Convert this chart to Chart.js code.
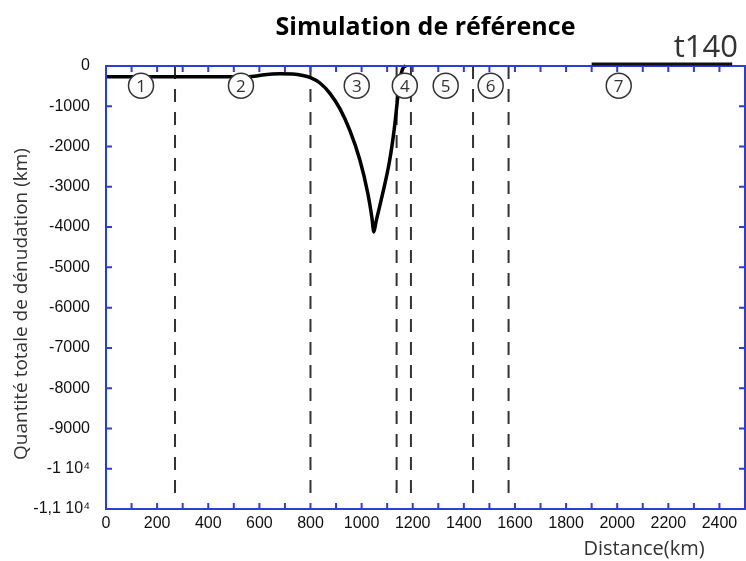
<!DOCTYPE html>
<html>
<head>
<meta charset="utf-8">
<script src="https://cdn.jsdelivr.net/npm/chart.js@4/dist/chart.umd.min.js"></script>
<style>
  html, body { margin: 0; padding: 0; background: #fff; }
  #wrap { width: 746px; height: 561px; }
</style>
</head>
<body>
<div id="wrap"><canvas id="c" width="746" height="561"></canvas></div>
<script>
// --- data ---
const distanceKm = [0, 200, 400, 540, 580, 620, 680, 730, 770, 800, 837, 876, 915, 954, 993, 1024, 1040, 1048, 1056, 1083, 1110, 1128, 1142, 1152, 1163, 1173];
const denudation = [-270, -270, -270, -270, -255, -215, -195, -200, -235, -290, -422, -678, -1060, -1600, -2330, -3153, -3750, -4120, -3880, -3153, -2334, -1550, -750, -280, -40, 0];

const boundaryKm = [270, 800, 1137, 1193, 1436, 1575];   // dashed zone limits
const zoneLabels = ['1', '2', '3', '4', '5', '6', '7'];
const zoneKm = [137, 528, 981, 1169, 1329, 1505, 2006];
const zoneLevel = -490;

const timeLabel = 't140';
const timeBarKm = [1900, 2450];

const xTickStep = 200;
const yTickLabels = ['0', '-1000', '-2000', '-3000', '-4000', '-5000', '-6000', '-7000', '-8000', '-9000', '-1 10\u2074', '-1,1 10\u2074'];

const AXIS_BLUE = '#2a3fd8';
const INK = '#333333';

// dashed boundary datasets
const boundarySets = boundaryKm.map(x => ({
    data: [{ x: x, y: 0 }, { x: x, y: -10750 }],
    borderColor: INK,
    borderWidth: 2,
    borderDash: [13, 10],
    pointRadius: 0,
    fill: false,
    order: 3
}));

// blue frame with inward ticks, zone numbers, time bar, axis titles
const decor = {
    id: 'decor',
    afterDatasetsDraw(chart) {
        const ctx = chart.ctx;
        const { left, right, top, bottom } = chart.chartArea;
        const xs = chart.scales.x, ys = chart.scales.y;

        // numbers inside the zone circles
        const meta = chart.getDatasetMeta(chart.data.datasets.length - 1);
        ctx.save();
        ctx.fillStyle = INK;
        ctx.font = '17px "Open Sans", sans-serif';
        ctx.textAlign = 'center';
        ctx.textBaseline = 'middle';
        meta.data.forEach((pt, i) => ctx.fillText(zoneLabels[i], pt.x, pt.y + 1));
        ctx.restore();

        // frame
        ctx.save();
        ctx.strokeStyle = AXIS_BLUE;
        ctx.lineWidth = 2;
        ctx.strokeRect(left, top, right - left, bottom - top);
        ctx.beginPath();
        for (let v = 100; v < 2500; v += 100) {
            const px = xs.getPixelForValue(v);
            ctx.moveTo(px, bottom); ctx.lineTo(px, bottom - 6);
            ctx.moveTo(px, top); ctx.lineTo(px, top + 6);
        }
        for (let v = -1000; v > -11000; v -= 1000) {
            const py = ys.getPixelForValue(v);
            ctx.moveTo(left, py); ctx.lineTo(left + 6, py);
            ctx.moveTo(right, py); ctx.lineTo(right - 6, py);
        }
        ctx.stroke();
        ctx.restore();

        // time bar just above the frame
        ctx.save();
        ctx.strokeStyle = '#111';
        ctx.lineWidth = 3;
        ctx.beginPath();
        ctx.moveTo(xs.getPixelForValue(timeBarKm[0]), top - 2);
        ctx.lineTo(xs.getPixelForValue(timeBarKm[1]), top - 2);
        ctx.stroke();

        // texts
        ctx.fillStyle = INK;
        ctx.font = '31px "Open Sans", sans-serif';
        ctx.textAlign = 'right';
        ctx.textBaseline = 'alphabetic';
        ctx.fillText(timeLabel, 738, 57);

        ctx.font = '20px "Open Sans", sans-serif';
        ctx.textAlign = 'center';
        ctx.textBaseline = 'middle';
        ctx.fillText('Distance(km)', 644, 549);

        ctx.font = '19px "Open Sans", sans-serif';
        ctx.translate(22, 304);
        ctx.rotate(-Math.PI / 2);
        ctx.fillText('Quantité totale de dénudation (km)', 0, 0);
        ctx.restore();
    }
};

new Chart(document.getElementById('c'), {
    type: 'line',
    data: {
        datasets: [
            {
                data: distanceKm.map((x, i) => ({ x: x, y: denudation[i] })),
                borderColor: '#000',
                borderWidth: 3.5,
                pointRadius: 0,
                cubicInterpolationMode: 'monotone',
                fill: false,
                clip: false,
                order: 2
            },
            ...boundarySets,
            {
                data: zoneKm.map(x => ({ x: x, y: zoneLevel })),
                showLine: false,
                pointRadius: 12.5,
                pointHoverRadius: 12.5,
                pointBackgroundColor: '#fdfcfc',
                pointBorderColor: INK,
                pointBorderWidth: 1.5,
                order: 1
            }
        ]
    },
    options: {
        responsive: false,
        animation: false,
        events: [],
        layout: { autoPadding: false, padding: { top: 0, right: 1, left: 0, bottom: 0 } },
        plugins: {
            legend: { display: false },
            tooltip: { enabled: false },
            title: {
                display: true,
                text: 'Simulation de référence',
                fullSize: false,
                color: '#000',
                font: { family: '"Open Sans", sans-serif', size: 25, weight: 'bold' },
                padding: { top: 13, bottom: 23 }
            }
        },
        scales: {
            x: {
                type: 'linear',
                min: 0,
                max: 2500,
                grid: { display: false, drawTicks: false },
                border: { display: false },
                ticks: {
                    stepSize: xTickStep,
                    includeBounds: false,
                    padding: 5,
                    color: '#111',
                    font: { family: 'Arial, "Liberation Sans", sans-serif', size: 16 },
                    callback: v => String(v)
                },
                afterFit(s) { s.height = 52; s.paddingLeft = 0; s.paddingRight = 0; }
            },
            y: {
                type: 'linear',
                min: -11000,
                max: 0,
                grid: { display: false, drawTicks: false },
                border: { display: false },
                ticks: {
                    stepSize: 1000,
                    padding: 16,
                    color: '#111',
                    font: { family: 'Arial, "Liberation Sans", sans-serif', size: 16 },
                    callback: v => yTickLabels[Math.round(-v / 1000)]
                },
                afterFit(s) { s.width = 106; s.paddingTop = 0; s.paddingBottom = 0; }
            }
        }
    },
    plugins: [decor]
});
</script>
</body>
</html>
